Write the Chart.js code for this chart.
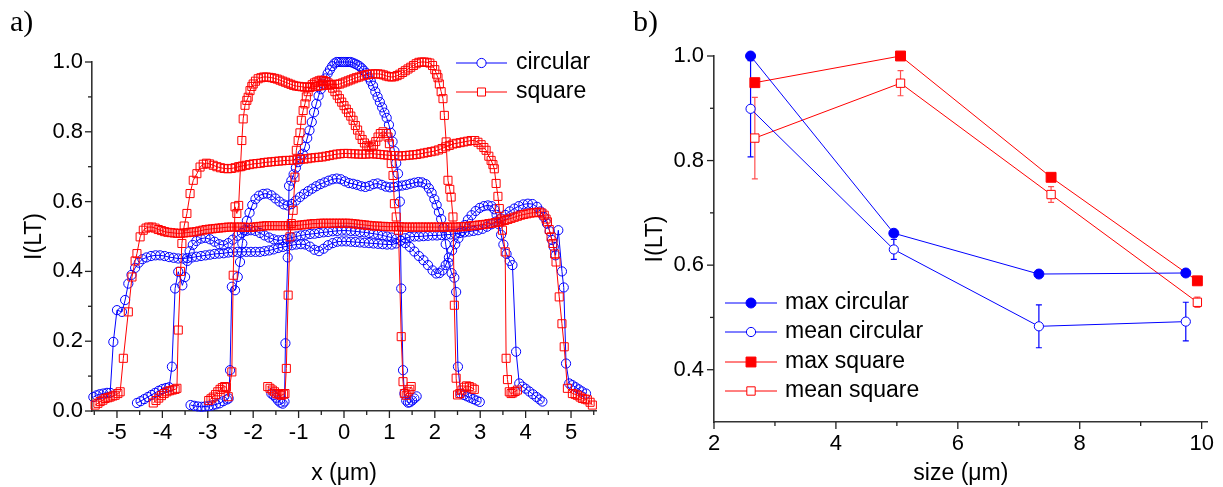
<!DOCTYPE html>
<html><head><meta charset="utf-8">
<script src="https://cdn.jsdelivr.net/npm/chart.js@4.4.1/dist/chart.umd.min.js"></script>
<style>
html,body{margin:0;padding:0;background:#fff;}
#wrap{position:relative;width:1223px;height:487px;overflow:hidden;background:#fff;}
canvas{position:absolute;top:0;}
#cA{left:0;} #cB{left:612px;}
.lab{position:absolute;font-family:"Liberation Serif","Times New Roman",serif;font-size:30px;line-height:30px;color:#000;}
</style></head><body>
<div id="wrap">
<canvas id="cA" width="612" height="487"></canvas>
<canvas id="cB" width="611" height="487"></canvas>
<div class="lab" style="left:10px;top:6px">a)</div>
<div class="lab" style="left:633px;top:6px">b)</div>
</div>
<script>
// ---------- Panel a) : intensity profiles, [x (um), I(LT)] ----------
const circ26 = [[-1.6,0.05],[-1.55,0.045],[-1.5,0.038],[-1.45,0.03],[-1.4,0.024],[-1.35,0.021],[-1.31,0.027],[-1.29,0.194],[-1.24,0.44],[-1.21,0.645],[-1.16,0.66],[-1.11,0.678],[-1.06,0.697],[-1.01,0.713],[-0.96,0.725],[-0.91,0.737],[-0.86,0.757],[-0.81,0.782],[-0.76,0.804],[-0.71,0.828],[-0.66,0.856],[-0.61,0.88],[-0.56,0.903],[-0.51,0.922],[-0.46,0.938],[-0.41,0.953],[-0.36,0.967],[-0.31,0.978],[-0.26,0.988],[-0.21,0.996],[-0.16,1.0],[-0.11,1.0],[-0.06,1.0],[-0.01,1.0],[0.04,1.0],[0.09,1.0],[0.14,1.0],[0.19,0.998],[0.24,0.995],[0.29,0.992],[0.34,0.988],[0.39,0.982],[0.44,0.975],[0.49,0.968],[0.54,0.956],[0.59,0.945],[0.64,0.932],[0.69,0.915],[0.74,0.9],[0.79,0.885],[0.84,0.87],[0.89,0.855],[0.94,0.84],[0.99,0.82],[1.03,0.797],[1.07,0.772],[1.11,0.745],[1.15,0.71],[1.19,0.68],[1.23,0.6],[1.26,0.351],[1.3,0.117],[1.33,0.05],[1.37,0.03],[1.41,0.024],[1.45,0.025],[1.5,0.03],[1.55,0.036],[1.6,0.042]];
const circ50 = [[-3.38,0.017],[-3.3,0.015],[-3.22,0.013],[-3.14,0.012],[-3.06,0.013],[-2.98,0.014],[-2.9,0.016],[-2.82,0.019],[-2.74,0.022],[-2.66,0.028],[-2.58,0.033],[-2.54,0.036],[-2.51,0.117],[-2.47,0.356],[-2.4,0.346],[-2.34,0.384],[-2.29,0.427],[-2.24,0.48],[-2.19,0.518],[-2.14,0.545],[-2.08,0.568],[-2.02,0.59],[-1.95,0.607],[-1.87,0.617],[-1.78,0.622],[-1.69,0.623],[-1.6,0.618],[-1.51,0.609],[-1.42,0.6],[-1.33,0.592],[-1.24,0.589],[-1.15,0.593],[-1.06,0.603],[-0.97,0.613],[-0.88,0.622],[-0.79,0.63],[-0.7,0.637],[-0.61,0.644],[-0.52,0.65],[-0.43,0.655],[-0.34,0.66],[-0.25,0.664],[-0.16,0.666],[-0.07,0.664],[0.02,0.658],[0.11,0.653],[0.2,0.651],[0.29,0.648],[0.38,0.644],[0.47,0.642],[0.56,0.645],[0.65,0.65],[0.74,0.652],[0.83,0.648],[0.92,0.643],[1.01,0.641],[1.1,0.642],[1.19,0.644],[1.28,0.646],[1.37,0.648],[1.46,0.651],[1.55,0.654],[1.64,0.656],[1.72,0.655],[1.8,0.65],[1.87,0.638],[1.93,0.625],[1.99,0.607],[2.04,0.59],[2.09,0.57],[2.14,0.55],[2.19,0.525],[2.24,0.478],[2.3,0.425],[2.37,0.395],[2.43,0.382],[2.47,0.341],[2.51,0.127],[2.57,0.05],[2.64,0.046],[2.71,0.042],[2.78,0.038],[2.85,0.034],[2.92,0.03],[2.99,0.026]];
const circ73 = [[-4.56,0.023],[-4.48,0.028],[-4.4,0.034],[-4.32,0.04],[-4.24,0.046],[-4.16,0.052],[-4.08,0.058],[-4.0,0.063],[-3.92,0.066],[-3.85,0.068],[-3.79,0.127],[-3.72,0.351],[-3.65,0.399],[-3.56,0.36],[-3.5,0.384],[-3.45,0.43],[-3.4,0.458],[-3.33,0.476],[-3.25,0.487],[-3.15,0.494],[-3.05,0.496],[-2.95,0.492],[-2.85,0.485],[-2.75,0.478],[-2.65,0.475],[-2.55,0.481],[-2.45,0.491],[-2.35,0.502],[-2.25,0.51],[-2.15,0.516],[-2.05,0.518],[-1.95,0.516],[-1.85,0.51],[-1.75,0.503],[-1.65,0.497],[-1.55,0.492],[-1.45,0.489],[-1.35,0.49],[-1.25,0.493],[-1.15,0.497],[-1.05,0.5],[-0.95,0.503],[-0.85,0.505],[-0.75,0.507],[-0.65,0.508],[-0.55,0.51],[-0.45,0.512],[-0.35,0.513],[-0.25,0.515],[-0.15,0.516],[-0.05,0.517],[0.05,0.517],[0.15,0.516],[0.25,0.515],[0.35,0.513],[0.45,0.512],[0.55,0.51],[0.65,0.508],[0.75,0.506],[0.85,0.503],[0.95,0.5],[1.05,0.497],[1.15,0.493],[1.25,0.488],[1.35,0.481],[1.45,0.47],[1.55,0.457],[1.65,0.444],[1.75,0.432],[1.85,0.418],[1.95,0.403],[2.03,0.394],[2.1,0.395],[2.17,0.403],[2.24,0.418],[2.31,0.44],[2.38,0.46],[2.45,0.478],[2.52,0.495],[2.59,0.515],[2.66,0.533],[2.73,0.548],[2.81,0.561],[2.9,0.573],[2.99,0.582],[3.08,0.587],[3.17,0.589],[3.25,0.587],[3.31,0.578],[3.36,0.562],[3.41,0.535],[3.46,0.505],[3.51,0.477],[3.58,0.45],[3.65,0.43],[3.71,0.418],[3.79,0.17],[3.86,0.079],[3.93,0.07],[4.0,0.064],[4.08,0.056],[4.16,0.048],[4.24,0.04],[4.31,0.033],[4.37,0.027]];
const circ97 = [[-5.52,0.04],[-5.45,0.045],[-5.38,0.048],[-5.3,0.05],[-5.22,0.052],[-5.15,0.052],[-5.08,0.198],[-5.0,0.289],[-4.89,0.284],[-4.82,0.318],[-4.75,0.365],[-4.68,0.39],[-4.6,0.41],[-4.52,0.425],[-4.44,0.435],[-4.35,0.44],[-4.25,0.444],[-4.15,0.446],[-4.05,0.446],[-3.95,0.444],[-3.85,0.441],[-3.75,0.439],[-3.65,0.437],[-3.55,0.437],[-3.45,0.438],[-3.35,0.44],[-3.25,0.442],[-3.15,0.444],[-3.05,0.446],[-2.95,0.448],[-2.85,0.45],[-2.75,0.451],[-2.65,0.452],[-2.55,0.454],[-2.45,0.455],[-2.35,0.456],[-2.25,0.456],[-2.15,0.456],[-2.05,0.456],[-1.95,0.456],[-1.85,0.456],[-1.75,0.458],[-1.65,0.46],[-1.55,0.463],[-1.45,0.467],[-1.35,0.47],[-1.25,0.472],[-1.15,0.475],[-1.05,0.477],[-0.95,0.478],[-0.85,0.477],[-0.75,0.471],[-0.65,0.462],[-0.55,0.458],[-0.45,0.465],[-0.35,0.475],[-0.25,0.481],[-0.15,0.485],[-0.05,0.486],[0.05,0.486],[0.15,0.485],[0.25,0.484],[0.35,0.483],[0.45,0.482],[0.55,0.481],[0.65,0.48],[0.75,0.479],[0.85,0.478],[0.95,0.477],[1.05,0.477],[1.15,0.48],[1.25,0.488],[1.35,0.495],[1.45,0.499],[1.55,0.5],[1.65,0.5],[1.75,0.501],[1.85,0.502],[1.95,0.503],[2.05,0.503],[2.15,0.504],[2.25,0.505],[2.35,0.506],[2.45,0.508],[2.55,0.51],[2.65,0.512],[2.75,0.514],[2.85,0.516],[2.95,0.518],[3.05,0.522],[3.15,0.528],[3.25,0.535],[3.35,0.543],[3.45,0.552],[3.55,0.562],[3.65,0.572],[3.75,0.58],[3.85,0.587],[3.95,0.592],[4.05,0.594],[4.15,0.593],[4.25,0.585],[4.33,0.572],[4.4,0.556],[4.47,0.537],[4.53,0.515],[4.58,0.49],[4.62,0.47],[4.66,0.446],[4.72,0.518],[4.8,0.4],[4.84,0.354],[4.89,0.136],[4.96,0.079],[5.03,0.074],[5.1,0.068],[5.17,0.062],[5.24,0.056],[5.33,0.05]];
const sq27 = [[-1.68,0.07],[-1.63,0.065],[-1.58,0.06],[-1.53,0.055],[-1.48,0.05],[-1.43,0.047],[-1.38,0.045],[-1.33,0.048],[-1.3,0.05],[-1.27,0.122],[-1.23,0.332],[-1.19,0.499],[-1.16,0.537],[-1.12,0.575],[-1.08,0.67],[-1.05,0.747],[-1.01,0.775],[-0.97,0.797],[-0.94,0.833],[-0.9,0.861],[-0.86,0.88],[-0.83,0.9],[-0.79,0.915],[-0.75,0.928],[-0.7,0.935],[-0.65,0.94],[-0.6,0.943],[-0.55,0.946],[-0.5,0.948],[-0.45,0.947],[-0.4,0.944],[-0.35,0.94],[-0.3,0.935],[-0.25,0.925],[-0.2,0.915],[-0.15,0.905],[-0.1,0.895],[-0.05,0.885],[0.0,0.875],[0.05,0.865],[0.1,0.855],[0.15,0.845],[0.2,0.833],[0.25,0.818],[0.3,0.805],[0.35,0.79],[0.4,0.778],[0.45,0.768],[0.5,0.76],[0.55,0.756],[0.6,0.757],[0.65,0.762],[0.7,0.772],[0.75,0.785],[0.8,0.795],[0.86,0.8],[0.93,0.795],[0.97,0.785],[1.0,0.766],[1.04,0.709],[1.08,0.675],[1.11,0.594],[1.15,0.556],[1.2,0.518],[1.26,0.213],[1.3,0.084],[1.33,0.05],[1.37,0.045],[1.41,0.055],[1.45,0.062],[1.48,0.07]];
const sq51 = [[-2.98,0.03],[-2.93,0.035],[-2.88,0.04],[-2.83,0.047],[-2.78,0.055],[-2.73,0.062],[-2.68,0.067],[-2.63,0.07],[-2.59,0.068],[-2.55,0.041],[-2.47,0.112],[-2.44,0.389],[-2.4,0.585],[-2.36,0.566],[-2.32,0.589],[-2.28,0.7],[-2.25,0.775],[-2.22,0.837],[-2.18,0.876],[-2.14,0.89],[-2.11,0.899],[-2.07,0.918],[-2.03,0.93],[-2.0,0.937],[-1.95,0.945],[-1.89,0.952],[-1.83,0.955],[-1.77,0.957],[-1.71,0.957],[-1.65,0.956],[-1.59,0.955],[-1.53,0.953],[-1.47,0.951],[-1.41,0.948],[-1.35,0.945],[-1.29,0.942],[-1.23,0.939],[-1.17,0.936],[-1.11,0.933],[-1.05,0.931],[-0.99,0.93],[-0.93,0.929],[-0.87,0.928],[-0.81,0.928],[-0.75,0.928],[-0.69,0.929],[-0.63,0.93],[-0.57,0.931],[-0.51,0.932],[-0.45,0.933],[-0.39,0.934],[-0.33,0.934],[-0.27,0.935],[-0.21,0.936],[-0.15,0.936],[-0.09,0.937],[-0.03,0.94],[0.03,0.943],[0.09,0.946],[0.15,0.949],[0.21,0.952],[0.27,0.955],[0.33,0.957],[0.39,0.96],[0.45,0.962],[0.51,0.964],[0.57,0.965],[0.63,0.966],[0.69,0.966],[0.75,0.966],[0.81,0.965],[0.87,0.963],[0.93,0.96],[0.99,0.958],[1.05,0.957],[1.11,0.958],[1.17,0.961],[1.23,0.965],[1.29,0.97],[1.35,0.975],[1.41,0.98],[1.47,0.985],[1.53,0.99],[1.59,0.995],[1.65,0.999],[1.71,1.0],[1.77,1.0],[1.83,0.999],[1.89,0.997],[1.95,0.99],[2.0,0.978],[2.04,0.965],[2.07,0.955],[2.1,0.937],[2.14,0.915],[2.18,0.895],[2.21,0.847],[2.25,0.771],[2.29,0.661],[2.33,0.635],[2.36,0.613],[2.4,0.556],[2.43,0.303],[2.47,0.094],[2.5,0.046],[2.55,0.05],[2.6,0.06],[2.65,0.068],[2.7,0.072],[2.76,0.07],[2.82,0.066],[2.87,0.062]];
const sq755 = [[-4.2,0.023],[-4.14,0.03],[-4.08,0.037],[-4.02,0.044],[-3.96,0.05],[-3.9,0.055],[-3.84,0.058],[-3.78,0.06],[-3.72,0.062],[-3.68,0.065],[-3.65,0.232],[-3.6,0.4],[-3.57,0.48],[-3.52,0.53],[-3.46,0.566],[-3.39,0.623],[-3.32,0.661],[-3.24,0.68],[-3.17,0.699],[-3.1,0.707],[-3.03,0.71],[-2.96,0.708],[-2.88,0.704],[-2.8,0.7],[-2.72,0.697],[-2.64,0.695],[-2.56,0.694],[-2.48,0.695],[-2.4,0.697],[-2.32,0.7],[-2.24,0.702],[-2.16,0.704],[-2.08,0.706],[-2.0,0.708],[-1.92,0.709],[-1.84,0.71],[-1.76,0.712],[-1.68,0.713],[-1.6,0.714],[-1.52,0.715],[-1.44,0.716],[-1.36,0.717],[-1.28,0.718],[-1.2,0.718],[-1.12,0.719],[-1.04,0.72],[-0.96,0.721],[-0.88,0.722],[-0.8,0.723],[-0.72,0.725],[-0.64,0.726],[-0.56,0.727],[-0.48,0.728],[-0.4,0.73],[-0.32,0.732],[-0.24,0.734],[-0.16,0.736],[-0.08,0.737],[0.0,0.738],[0.08,0.738],[0.16,0.737],[0.24,0.737],[0.32,0.736],[0.4,0.736],[0.48,0.736],[0.56,0.737],[0.64,0.737],[0.72,0.736],[0.8,0.735],[0.88,0.734],[0.96,0.733],[1.04,0.732],[1.12,0.732],[1.2,0.731],[1.28,0.731],[1.36,0.732],[1.44,0.733],[1.52,0.734],[1.6,0.735],[1.68,0.737],[1.76,0.739],[1.84,0.741],[1.92,0.743],[2.0,0.745],[2.08,0.748],[2.16,0.752],[2.24,0.757],[2.32,0.761],[2.4,0.765],[2.48,0.767],[2.56,0.769],[2.64,0.771],[2.72,0.773],[2.8,0.775],[2.88,0.775],[2.95,0.77],[3.02,0.763],[3.08,0.755],[3.13,0.747],[3.19,0.73],[3.24,0.718],[3.28,0.706],[3.31,0.694],[3.35,0.652],[3.39,0.615],[3.42,0.58],[3.46,0.55],[3.49,0.518],[3.55,0.456],[3.57,0.151],[3.6,0.09],[3.64,0.055],[3.68,0.05],[3.72,0.052],[3.77,0.056],[3.82,0.06]];
const sq995 = [[-5.48,0.017],[-5.42,0.022],[-5.37,0.027],[-5.31,0.031],[-5.26,0.036],[-5.2,0.038],[-5.15,0.04],[-5.09,0.043],[-5.04,0.045],[-4.98,0.05],[-4.93,0.055],[-4.86,0.151],[-4.75,0.284],[-4.67,0.384],[-4.6,0.43],[-4.56,0.451],[-4.49,0.499],[-4.42,0.518],[-4.36,0.524],[-4.3,0.527],[-4.23,0.527],[-4.16,0.524],[-4.09,0.52],[-4.02,0.517],[-3.95,0.514],[-3.88,0.512],[-3.81,0.511],[-3.74,0.51],[-3.67,0.509],[-3.6,0.509],[-3.53,0.51],[-3.46,0.511],[-3.39,0.512],[-3.32,0.513],[-3.25,0.514],[-3.18,0.516],[-3.11,0.518],[-3.04,0.52],[-2.97,0.521],[-2.9,0.522],[-2.83,0.523],[-2.76,0.524],[-2.69,0.525],[-2.62,0.526],[-2.55,0.527],[-2.48,0.527],[-2.41,0.527],[-2.34,0.527],[-2.27,0.527],[-2.2,0.527],[-2.13,0.526],[-2.06,0.526],[-1.99,0.527],[-1.92,0.528],[-1.85,0.529],[-1.78,0.53],[-1.71,0.531],[-1.64,0.531],[-1.57,0.531],[-1.5,0.531],[-1.43,0.531],[-1.36,0.531],[-1.29,0.531],[-1.22,0.531],[-1.15,0.531],[-1.08,0.531],[-1.01,0.532],[-0.94,0.533],[-0.87,0.534],[-0.8,0.535],[-0.73,0.536],[-0.66,0.537],[-0.59,0.537],[-0.52,0.538],[-0.45,0.538],[-0.38,0.538],[-0.31,0.538],[-0.24,0.538],[-0.17,0.538],[-0.1,0.538],[-0.03,0.538],[0.04,0.538],[0.11,0.538],[0.18,0.537],[0.25,0.536],[0.32,0.535],[0.39,0.534],[0.46,0.533],[0.53,0.532],[0.6,0.531],[0.67,0.53],[0.74,0.53],[0.81,0.529],[0.88,0.529],[0.95,0.528],[1.02,0.528],[1.09,0.528],[1.16,0.528],[1.23,0.528],[1.3,0.527],[1.37,0.527],[1.44,0.527],[1.51,0.527],[1.58,0.527],[1.65,0.527],[1.72,0.527],[1.79,0.527],[1.86,0.527],[1.93,0.527],[2.0,0.527],[2.07,0.527],[2.14,0.527],[2.21,0.527],[2.28,0.527],[2.35,0.527],[2.42,0.527],[2.49,0.527],[2.56,0.528],[2.63,0.528],[2.7,0.529],[2.77,0.53],[2.84,0.531],[2.91,0.532],[2.98,0.533],[3.05,0.534],[3.12,0.535],[3.19,0.537],[3.26,0.538],[3.33,0.54],[3.4,0.542],[3.47,0.544],[3.54,0.546],[3.61,0.549],[3.68,0.552],[3.75,0.555],[3.82,0.558],[3.89,0.561],[3.96,0.563],[4.03,0.565],[4.1,0.567],[4.17,0.568],[4.24,0.569],[4.3,0.57],[4.36,0.567],[4.41,0.561],[4.45,0.55],[4.48,0.542],[4.52,0.52],[4.56,0.499],[4.6,0.48],[4.64,0.45],[4.67,0.427],[4.74,0.327],[4.8,0.25],[4.85,0.184],[4.92,0.065],[5.03,0.05],[5.09,0.048],[5.14,0.045],[5.2,0.04],[5.25,0.036],[5.31,0.034],[5.36,0.032],[5.42,0.025],[5.47,0.017]];

const legendA = ['circular', 'square'];
const xTicksA = [-5,-4,-3,-2,-1,0,1,2,3,4,5];
const xMinorA = [-5.5,-4.5,-3.5,-2.5,-1.5,-0.5,0.5,1.5,2.5,3.5,4.5,5.5];
const yTicksA = [0,0.2,0.4,0.6,0.8,1.0];
const yMinorA = [0.1,0.3,0.5,0.7,0.9];

// ---------- Panel b) : max / mean vs size ----------
const sizeCirc = [2.6, 4.95, 7.33, 9.74];
const sizeSq   = [2.67, 5.06, 7.53, 9.93];
const maxCirc  = [1.0, 0.661, 0.583, 0.585];
const meanCirc = [0.899, 0.630, 0.483, 0.492];
const meanCircErr = [0.092, 0.019, 0.041, 0.037];
const maxSq    = [0.949, 1.0, 0.768, 0.570];
const meanSq   = [0.843, 0.948, 0.735, 0.529];
const meanSqErr = [0.078, 0.024, 0.015, 0.010];
const legendB = ['max circular', 'mean circular', 'max square', 'mean square'];
const xTicksB = [2,4,6,8,10];
const xMinorB = [3,5,7,9];
const yTicksB = [0.4,0.6,0.8,1.0];
const yMinorB = [0.5,0.7,0.9];

const BLUE = 'rgb(0,0,255)', RED = 'rgb(255,0,0)', ERRRED = 'rgb(255,80,80)';
const SANS = '"Liberation Sans", Arial, Helvetica, sans-serif';
Chart.defaults.font.family = SANS;
Chart.defaults.color = '#000';

function tickPlugin(id, xMaj, xMin, yMaj, yMin) {
  return { id, afterDraw(chart) {
    const ctx = chart.ctx, xs = chart.scales.x, ys = chart.scales.y, ca = chart.chartArea;
    ctx.save(); ctx.strokeStyle = '#222'; ctx.lineWidth = 1.3;
    const dx = (vals, len) => vals.forEach(v => { const p = xs.getPixelForValue(v); ctx.beginPath(); ctx.moveTo(p, ca.bottom); ctx.lineTo(p, ca.bottom + len); ctx.stroke(); });
    const dy = (vals, len) => vals.forEach(v => { const p = ys.getPixelForValue(v); ctx.beginPath(); ctx.moveTo(ca.left, p); ctx.lineTo(ca.left - len, p); ctx.stroke(); });
    dx(xMaj, 7); dx(xMin, 4); dy(yMaj, 7); dy(yMin, 4);
    ctx.restore();
  }};
}
function legendPlugin(id, items) {
  return { id, afterDraw(chart) {
    const ctx = chart.ctx; ctx.save();
    items.forEach(it => {
      ctx.strokeStyle = it.color; ctx.lineWidth = 1;
      ctx.beginPath(); ctx.moveTo(it.x1, it.y); ctx.lineTo(it.x2, it.y); ctx.stroke();
      ctx.fillStyle = it.fill; ctx.strokeStyle = it.color; ctx.lineWidth = 1;
      Chart.helpers.drawPoint(ctx, {pointStyle: it.style, radius: it.r, borderWidth: 1, rotation: 0}, it.mx, it.y);
      ctx.fillStyle = '#000'; ctx.font = '23px ' + SANS; ctx.textBaseline = 'middle'; ctx.textAlign = 'left';
      ctx.fillText(it.label, it.tx, it.y);
    });
    ctx.restore();
  }};
}
const errPlugin = { id: 'errBars', beforeDatasetsDraw(chart) {
  const ctx = chart.ctx, ys = chart.scales.y;
  chart.data.datasets.forEach((ds, i) => {
    if (!ds.errors) return;
    const meta = chart.getDatasetMeta(i);
    ctx.save(); ctx.strokeStyle = ds.errColor; ctx.lineWidth = 1.2;
    meta.data.forEach((pt, j) => {
      const v = ds.data[j].y, e = ds.errors[j];
      const x = pt.x, yt = ys.getPixelForValue(v + e), yb = ys.getPixelForValue(v - e);
      ctx.beginPath();
      ctx.moveTo(x, yt); ctx.lineTo(x, yb);
      ctx.moveTo(x - 3, yt); ctx.lineTo(x + 3, yt);
      ctx.moveTo(x - 3, yb); ctx.lineTo(x + 3, yb);
      ctx.stroke();
    });
    ctx.restore();
  });
}};

function prof(points, color, style, r) {
  return { data: points.map(p => ({x: p[0], y: p[1]})), showLine: true, borderColor: color, borderWidth: 1,
    pointStyle: style, pointRadius: r, pointHoverRadius: r, pointBorderColor: color, pointBackgroundColor: 'rgba(0,0,0,0)',
    pointBorderWidth: 1, clip: false, tension: 0 };
}
function axisCommon(min, max, ticks, fmt, pad, widthOrHeight, isX, title, tpad) {
  return {
    type: 'linear', min, max,
    afterBuildTicks(s) { s.ticks = ticks.map(v => ({value: v})); },
    afterFit(s) { if (isX) s.height = widthOrHeight; else s.width = widthOrHeight; },
    ticks: { font: {size: 22}, color: '#000', padding: pad, autoSkip: false, maxRotation: 0, callback: fmt },
    grid: { display: false, drawTicks: false },
    border: { display: true, color: '#333', width: 1.6 },
    title: { display: true, text: title, font: {size: 23}, color: '#000', padding: tpad }
  };
}

new Chart(document.getElementById('cA'), {
  type: 'scatter',
  data: { datasets: [
    prof(sq27, RED, 'rect', 5.7), prof(sq51, RED, 'rect', 5.7), prof(sq755, RED, 'rect', 5.7), prof(sq995, RED, 'rect', 5.7),
    prof(circ26, BLUE, 'circle', 4.6), prof(circ50, BLUE, 'circle', 4.6), prof(circ73, BLUE, 'circle', 4.6), prof(circ97, BLUE, 'circle', 4.6)
  ]},
  options: {
    responsive: false, animation: false, devicePixelRatio: 1,
    layout: { padding: { top: 62, right: 16, bottom: 0, left: 0 } },
    scales: {
      x: axisCommon(-5.55, 5.55, xTicksA, v => String(v), 9, 76, true, 'x (\u03bcm)', {top: 0, bottom: 0}),
      y: axisCommon(0, 1.0, yTicksA, v => v.toFixed(1), 9, 92, false, 'I(LT)', {top: 21, bottom: 0})
    },
    plugins: { legend: {display: false}, tooltip: {enabled: false} },
    events: []
  },
  plugins: [tickPlugin('ticksA', xTicksA, xMinorA, yTicksA, yMinorA),
    legendPlugin('legA', [
      {label: legendA[0], color: BLUE, fill: '#fff', style: 'circle', r: 4.6, x1: 456, x2: 507, mx: 481.5, tx: 516, y: 63},
      {label: legendA[1], color: RED, fill: '#fff', style: 'rect', r: 5.7, x1: 456, x2: 507, mx: 481.5, tx: 516, y: 92}
    ])]
});

function ser(xs, ys, color, style, r, fill) {
  return { data: xs.map((x, i) => ({x, y: ys[i]})), showLine: true, borderColor: color, borderWidth: 1,
    pointStyle: style, pointRadius: r, pointHoverRadius: r, pointBorderColor: color, pointBackgroundColor: fill,
    pointBorderWidth: 1, clip: false, tension: 0 };
}
const dMeanCirc = ser(sizeCirc, meanCirc, BLUE, 'circle', 4.6, '#fff'); dMeanCirc.errors = meanCircErr; dMeanCirc.errColor = BLUE;
const dMeanSq = ser(sizeSq, meanSq, RED, 'rect', 5.9, '#fff'); dMeanSq.errors = meanSqErr; dMeanSq.errColor = ERRRED;

new Chart(document.getElementById('cB'), {
  type: 'scatter',
  data: { datasets: [
    ser(sizeCirc, maxCirc, BLUE, 'circle', 5, BLUE),
    dMeanCirc,
    ser(sizeSq, maxSq, RED, 'rect', 7, RED),
    dMeanSq
  ]},
  options: {
    responsive: false, animation: false, devicePixelRatio: 1,
    layout: { padding: { top: 56, right: 10, bottom: 0, left: 0 } },
    scales: {
      x: axisCommon(2, 10.1, xTicksB, v => String(v), 9, 65, true, 'size (\u03bcm)', {top: 0, bottom: 0}),
      y: axisCommon(0.3, 1.0, yTicksB, v => v.toFixed(1), 10, 102, false, 'I(LT)', {top: 30, bottom: 0})
    },
    plugins: { legend: {display: false}, tooltip: {enabled: false} },
    events: []
  },
  plugins: [errPlugin, tickPlugin('ticksB', xTicksB, xMinorB, yTicksB, yMinorB),
    legendPlugin('legB', [
      {label: legendB[0], color: BLUE, fill: BLUE, style: 'circle', r: 5, x1: 113, x2: 165, mx: 139, tx: 173, y: 303},
      {label: legendB[1], color: BLUE, fill: '#fff', style: 'circle', r: 4.6, x1: 113, x2: 165, mx: 139, tx: 173, y: 332},
      {label: legendB[2], color: RED, fill: RED, style: 'rect', r: 7, x1: 113, x2: 165, mx: 139, tx: 173, y: 362},
      {label: legendB[3], color: RED, fill: '#fff', style: 'rect', r: 5.9, x1: 113, x2: 165, mx: 139, tx: 173, y: 391}
    ])]
});
</script>
</body></html>
